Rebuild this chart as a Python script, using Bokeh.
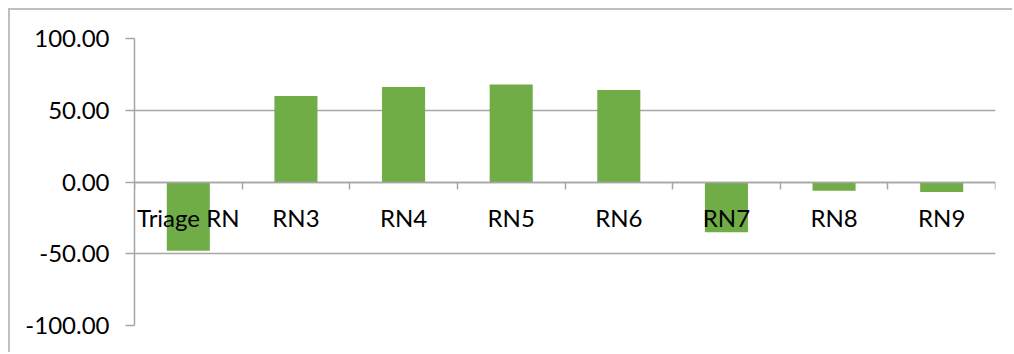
from bokeh.plotting import figure
from bokeh.models import Range1d, LinearAxis, FixedTicker, NumeralTickFormatter, ColumnDataSource, Grid
from bokeh.embed import file_html
from bokeh.resources import INLINE

# Staffing variance by nursing role
categories = ["Triage RN", "RN3", "RN4", "RN5", "RN6", "RN7", "RN8", "RN9"]
values = [-47.9, 59.9, 66.2, 68.0, 64.1, -35.1, -6.1, -7.0]
y_ticks = [-100, -50, 0, 50, 100]

GRID = "#a6a6a6"
FONT = "Lato"
BAR = "#70ad47"

n = len(categories)
centers = [i + 0.5 for i in range(n)]
boundaries = list(range(n + 1))

src = ColumnDataSource(dict(x=centers, top=values, cat=categories))

p = figure(width=1004, height=344, output_backend="svg", toolbar_location=None,
           x_range=Range1d(0, n), y_range=Range1d(-100, 100),
           x_axis_type=None, y_axis_type=None,
           min_border_left=124, min_border_right=19, min_border_top=28, min_border_bottom=29,
           margin=(8, 0, 0, 8))
p.styles = {"border-left": "2px solid #bfbfbf", "border-top": "2px solid #bfbfbf"}
p.outline_line_color = None
p.background_fill_color = "white"
p.border_fill_color = "white"

p.vbar(x="x", top="top", bottom=0, width=0.4, source=src, fill_color=BAR, line_color=None)

# value axis on the left
yax = LinearAxis(ticker=FixedTicker(ticks=y_ticks),
                 formatter=NumeralTickFormatter(format="0.00"))
yax.axis_line_color = GRID
yax.axis_line_width = 1.5
yax.major_tick_line_color = GRID
yax.major_tick_line_width = 1.5
yax.major_tick_out = 9
yax.major_tick_in = 0
yax.minor_tick_line_color = None
yax.major_label_text_font = FONT
yax.major_label_text_font_size = "24px"
yax.major_label_text_color = "black"
yax.major_label_standoff = 16
p.add_layout(yax, "left")

# category axis drawn through zero: ticks at the category boundaries
xtick_ax = LinearAxis(ticker=FixedTicker(ticks=boundaries), fixed_location=0,
                      major_label_overrides={b: "" for b in boundaries})
xtick_ax.axis_line_color = GRID
xtick_ax.axis_line_width = 1.5
xtick_ax.major_tick_line_color = GRID
xtick_ax.major_tick_line_width = 1.5
xtick_ax.major_tick_out = 7
xtick_ax.major_tick_in = 0
xtick_ax.minor_tick_line_color = None
p.add_layout(xtick_ax, "below")

# category labels at bar centres
xlab_ax = LinearAxis(ticker=FixedTicker(ticks=centers), fixed_location=0,
                     major_label_overrides={c: lab for c, lab in zip(centers, categories)})
xlab_ax.axis_line_color = None
xlab_ax.major_tick_line_color = None
xlab_ax.minor_tick_line_color = None
xlab_ax.major_label_text_font = FONT
xlab_ax.major_label_text_font_size = "24px"
xlab_ax.major_label_text_color = "black"
xlab_ax.major_label_standoff = 15
p.add_layout(xlab_ax, "below")

p.ygrid.visible = False
p.xgrid.visible = False
grid = Grid(dimension=1, ticker=FixedTicker(ticks=y_ticks), grid_line_color=GRID, grid_line_width=1.5)
p.add_layout(grid)

open("out.html", "w").write(file_html(p, INLINE))
